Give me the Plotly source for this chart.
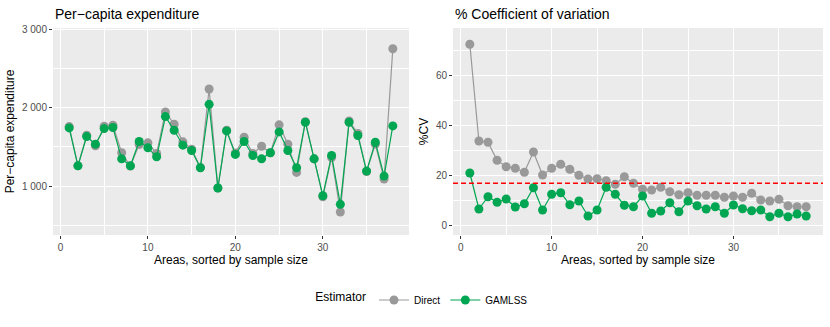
import plotly.graph_objs as go
from plotly.subplots import make_subplots

# areas sorted by sample size
areas = list(range(1, 39))

# per-capita expenditure
direct_mean = [1758, 1260, 1648, 1513, 1763, 1775, 1424, 1255, 1530, 1551,
               1415, 1945, 1788, 1564, 1470, 1235, 2237, 975, 1712, 1420,
               1623, 1415, 1508, 1424, 1780, 1534, 1174, 1820, 1347, 864,
               1364, 669, 1830, 1670, 1185, 1534, 1089, 2750]
gamlss_mean = [1741, 1258, 1631, 1534, 1733, 1746, 1347, 1258, 1568, 1487,
               1373, 1886, 1712, 1521, 1453, 1233, 2042, 975, 1703, 1403,
               1568, 1390, 1347, 1424, 1690, 1453, 1233, 1814, 1347, 877,
               1390, 767, 1814, 1644, 1191, 1559, 1127, 1767]

# % coefficient of variation
direct_cv = [72.3, 33.6, 33.1, 25.9, 23.3, 22.7, 21.1, 29.2, 20.0, 22.7,
             24.3, 22.3, 19.9, 18.4, 18.5, 17.7, 16.3, 19.3, 16.7, 14.3,
             14.0, 15.1, 13.3, 12.1, 12.9, 11.9, 11.9, 11.9, 11.1, 11.6,
             11.1, 12.7, 10.0, 9.6, 10.3, 7.7, 7.3, 7.3]
gamlss_cv = [20.8, 6.4, 11.3, 9.1, 10.4, 7.2, 8.5, 14.9, 6.0, 12.3,
             12.9, 8.1, 9.6, 3.6, 6.0, 15.1, 12.3, 7.9, 7.3, 11.6,
             4.7, 5.6, 8.9, 5.3, 9.6, 7.7, 6.4, 7.3, 4.7, 8.0,
             6.5, 5.7, 6.0, 3.3, 4.7, 3.3, 4.4, 3.6]
cv_threshold = 16.7

GREY = "#999999"
GREEN = "#00A651"
FONT = "Liberation Sans, Arial, sans-serif"

W, H = 830, 327
fig = make_subplots(rows=1, cols=2)

for col, (d, g) in enumerate([(direct_mean, gamlss_mean), (direct_cv, gamlss_cv)], start=1):
    fig.add_trace(go.Scatter(
        x=areas, y=d, mode="lines+markers", name="Direct",
        line=dict(color=GREY, width=1.2), marker=dict(color=GREY, size=9),
        showlegend=(col == 1), legendgroup="Direct",
    ), row=1, col=col)
    fig.add_trace(go.Scatter(
        x=areas, y=g, mode="lines+markers", name="GAMLSS",
        line=dict(color=GREEN, width=1.2), marker=dict(color=GREEN, size=9),
        showlegend=(col == 1), legendgroup="GAMLSS",
    ), row=1, col=col)

fig.add_shape(type="line", xref="x2 domain", yref="y2", x0=0, x1=1,
              y0=cv_threshold, y1=cv_threshold,
              line=dict(color="#FF0000", width=1.4, dash="5px,3px"))

axis_common = dict(
    showgrid=True, gridcolor="white", gridwidth=1.1, zeroline=False,
    ticks="outside", ticklen=3, tickcolor="#333333",
    tickfont=dict(size=10, color="#4D4D4D"),
    minor=dict(showgrid=True, gridcolor="white", gridwidth=0.5),
    showline=False,
)
x_title = dict(text="Areas, sorted by sample size", font=dict(size=12, color="black"), standoff=2)

fig.update_xaxes(axis_common)
fig.update_yaxes(axis_common)

fig.update_layout(
    xaxis=dict(domain=[53 / W, 409 / W], range=[-0.85, 39.85], tickvals=[0, 10, 20, 30],
               minor=dict(tickvals=[5, 15, 25, 35]), title=x_title),
    xaxis2=dict(domain=[453 / W, 823 / W], range=[-0.85, 39.85], tickvals=[0, 10, 20, 30],
                minor=dict(tickvals=[5, 15, 25, 35]), title=x_title),
    yaxis=dict(range=[376, 3015], tickvals=[1000, 2000, 3000], tickformat=",",
               minor=dict(tickvals=[500, 1500, 2500]),
               title=dict(text="Per−capita expenditure", font=dict(size=12, color="black"), standoff=4)),
    yaxis2=dict(range=[-4, 78.8], tickvals=[0, 20, 40, 60],
                minor=dict(tickvals=[10, 30, 50, 70]),
                title=dict(text="%CV", font=dict(size=12, color="black"), standoff=4)),
    separators=". ",
    plot_bgcolor="#EBEBEB",
    paper_bgcolor="white",
    width=W, height=H,
    margin=dict(l=0, r=0, t=28, b=92),
    font=dict(family=FONT, color="black"),
    legend=dict(
        orientation="h", x=0.51, xanchor="center", y=-0.314, yanchor="middle",
        title=dict(text="Estimator", font=dict(size=12)),
        font=dict(size=10), itemwidth=30, tracegroupgap=0,
    ),
    annotations=[
        dict(text="Per−capita expenditure", xref="paper", yref="paper",
             x=53 / W, y=1, xanchor="left", yanchor="bottom", yshift=4,
             showarrow=False, font=dict(size=14)),
        dict(text="% Coefficient of variation", xref="paper", yref="paper",
             x=453 / W, y=1, xanchor="left", yanchor="bottom", yshift=4,
             showarrow=False, font=dict(size=14)),
    ],
)

# drop the page margin so the figure sits at the window corner
fig.write_html("out.html", config={"displayModeBar": False},
               post_script="document.body.style.margin='0';")
